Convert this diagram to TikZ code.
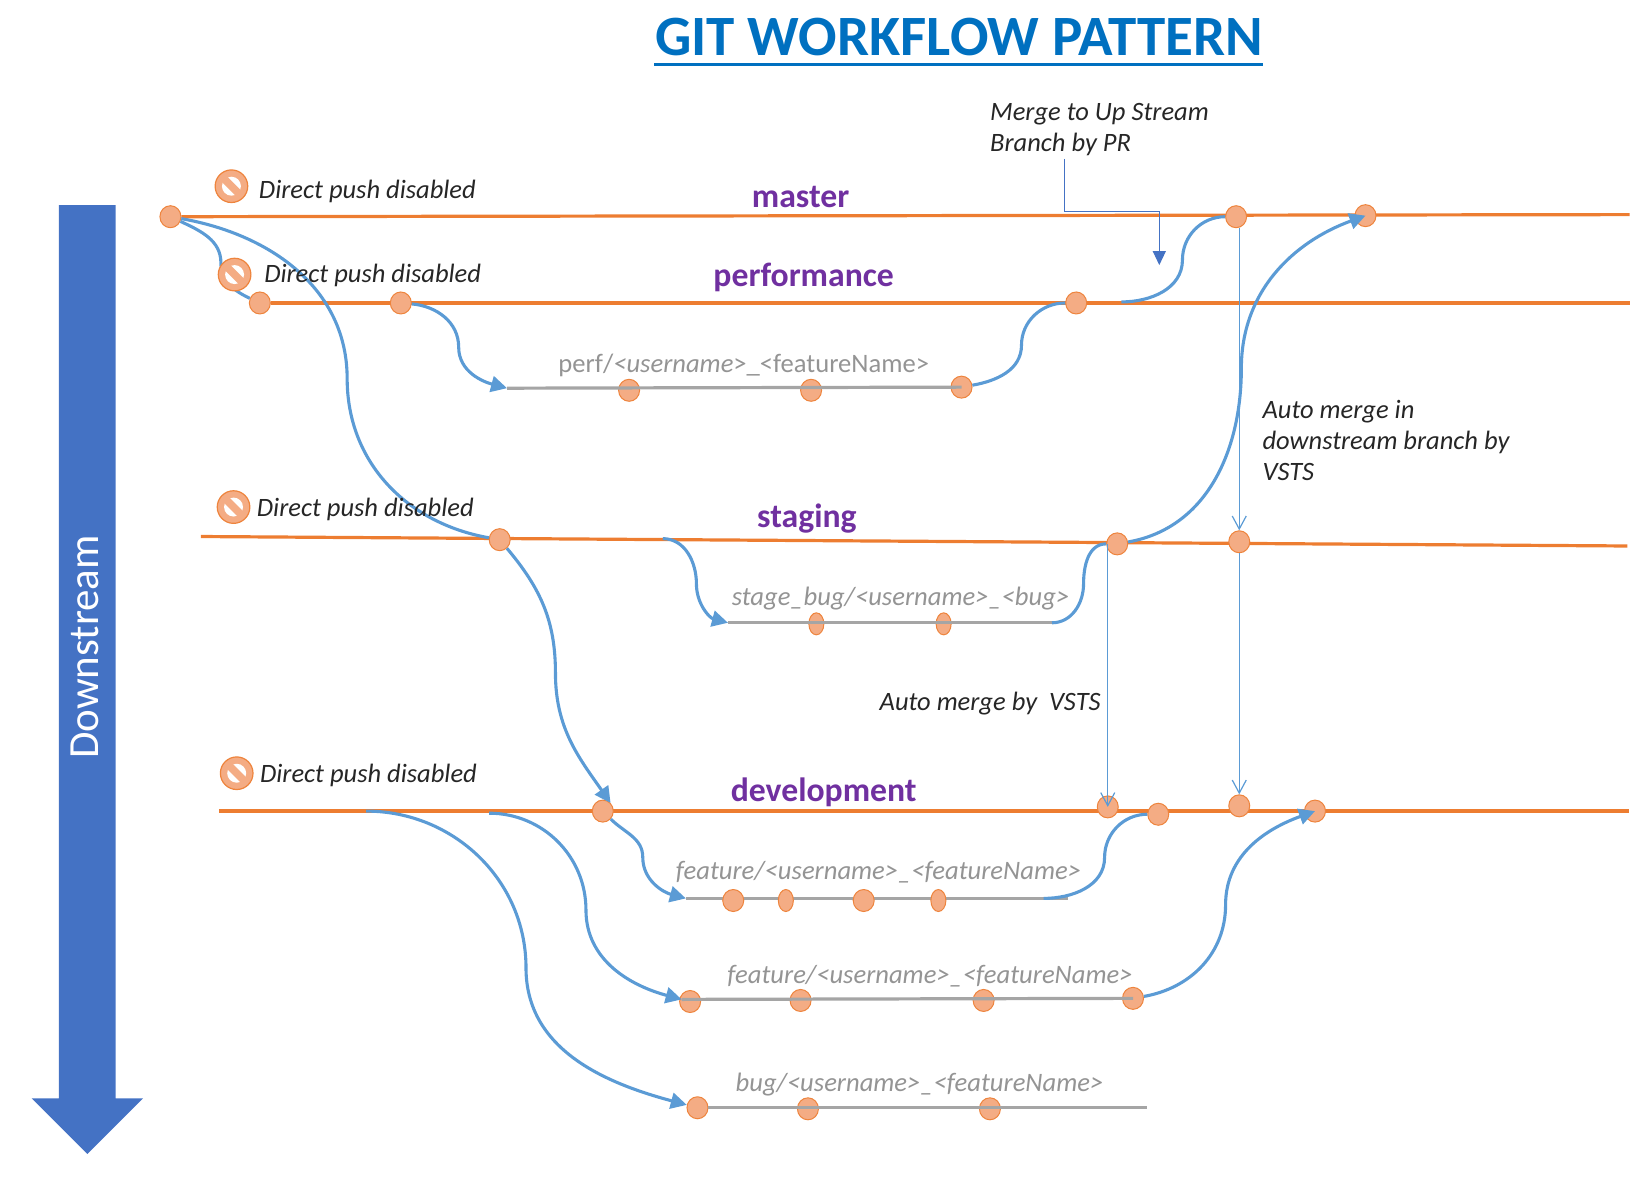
\documentclass[tikz,border=0pt]{standalone}
\usepackage{fontspec}
\setmainfont{Carlito}
\usetikzlibrary{arrows.meta,backgrounds,shapes.geometric}
\definecolor{gitorange}{HTML}{ED7D31}
\definecolor{gitdot}{HTML}{F4AC84}
\definecolor{gitblue}{HTML}{5B9BD5}
\definecolor{gitdark}{HTML}{4472C4}
\definecolor{gitgray}{HTML}{A5A5A5}
\definecolor{gittitle}{HTML}{0070C0}
\definecolor{gitpurple}{HTML}{7030A0}
\tikzset{
	commit/.style={shape=ellipse, draw=gitorange!85!gitdot, line width=1pt, fill=gitdot, inner sep=0pt, minimum width=21pt, minimum height=22pt},
	thincommit/.style={commit, minimum width=15pt},
	mainline/.style={gitorange, line width=3.2pt},
	topicline/.style={gitgray, line width=3.2pt},
	flow/.style={gitblue, line width=3.1pt},
	flowto/.style={flow, -{Triangle[length=16pt,width=16pt]}},
	automerge/.style={gitblue, line width=1.2pt, -{Straight Barb[length=13pt,width=14pt]}},
	branchname/.style={text=gitpurple, font=\fontsize{33.7}{34}\selectfont\bfseries},
	topicname/.style={text=gitgray!90!black, font=\fontsize{26.6}{27}\selectfont\itshape},
	note/.style={text=black!85, font=\fontsize{26.5}{31}\selectfont\itshape, align=left, anchor=west, inner sep=0pt},
	nopush/.pic={
		\fill[gitdot] (0,0) circle (15.5);
		\draw[gitorange!85!gitdot, line width=1.2pt] (0,0) circle (15.5);
		\fill[white] (0,0) circle (9);
		\draw[gitdot, line width=7.5pt] (-7,-7) -- (7,7);
	}
}
\begin{document}
\begin{tikzpicture}[x=1.052pt, y=-1.052pt]
	\useasboundingbox (0,0) rectangle (1567.5,1121.7);

	% title
	\node[text=gittitle, font=\fontsize{57}{57}\selectfont\bfseries] (title) at (912,35) {GIT WORKFLOW PATTERN};
	\draw[gittitle, line width=2.8pt] (622,61) -- (1201,61);

	% downstream arrow
	\fill[gitdark] (56,195) -- (110,195) -- (110,1044) -- (136,1044) -- (83,1097) -- (30,1044) -- (56,1044) -- cycle;
	\node[text=white, rotate=90, font=\fontsize{43}{43}\selectfont] (down) at (81,615) {Downstream};

	% commits on the long branches
	\node[commit] (m0) at (162,206) {};
	\node[commit] (m1) at (1175,206) {};
	\node[commit] (m2) at (1298,205) {};
	\node[commit] (p0) at (247,288) {};
	\node[commit] (p1) at (381,288) {};
	\node[commit] (p2) at (1023,288) {};
	\node[commit] (s0) at (475,513) {};
	\node[commit] (s1) at (1062,517) {};
	\node[commit] (s2) at (1178,515) {};
	\node[commit] (d0) at (573,771) {};
	\node[commit] (d1) at (1053,767) {};
	\node[commit] (d2) at (1101,774) {};
	\node[commit] (d3) at (1178,766) {};
	\node[commit] (d4) at (1250,771) {};

	% commits on the topic branches
	\node[commit] (a0) at (598,371) {};
	\node[commit] (a1) at (771,371) {};
	\node[commit] (a2) at (914,368) {};
	\node[thincommit] (b0) at (776,593) {};
	\node[thincommit] (b1) at (897,593) {};
	\node[commit] (f0) at (697,856) {};
	\node[thincommit] (f1) at (747,856) {};
	\node[commit] (f2) at (821,856) {};
	\node[thincommit] (f3) at (892,856) {};
	\node[commit] (g0) at (656,952) {};
	\node[commit] (g1) at (761,951) {};
	\node[commit] (g2) at (935,951) {};
	\node[commit] (g3) at (1077,949) {};
	\node[commit] (h0) at (663,1053) {};
	\node[commit] (h1) at (768,1054) {};
	\node[commit] (h2) at (941,1054) {};

	% free ends
	\coordinate (mEnd) at (1549,204);
	\coordinate (pEnd) at (1549,288);
	\coordinate (sStart) at (191,510);
	\coordinate (sEnd) at (1547,519);
	\coordinate (dStart) at (208,771);
	\coordinate (dEnd) at (1548,771);
	\coordinate (aStart) at (482,369);
	\coordinate (bStart) at (692,592);
	\coordinate (bEnd) at (1000,592);
	\coordinate (fStart) at (652,854);
	\coordinate (fEnd) at (1015,854);
	\coordinate (gStart) at (648,950);
	\coordinate (hEnd) at (1090,1053);
	\coordinate (pFrom) at (1066,287);
	\coordinate (sFrom) at (630,512);
	\coordinate (fFrom) at (992,854);
	\coordinate (dFromA) at (465,773);
	\coordinate (dFromB) at (348,771);
	\coordinate (prA) at (1012,151);
	\coordinate (prB) at (1102,252);

	\begin{scope}[on background layer]
		\draw[mainline] (m0) -- (mEnd);
		\draw[mainline] (p0) -- (pEnd);
		\draw[mainline] (sStart) -- (sEnd);
		\draw[mainline] (dStart) -- (dEnd);
		\draw[topicline] (fStart) -- (fEnd);
	\end{scope}

	% topic lines run over their commits
	\draw[topicline] (aStart) -- (a2.center);
	\draw[topicline] (bStart) -- (bEnd);
	\draw[topicline] (gStart) -- (g3.center);
	\draw[topicline] (h0.east) -- (hEnd);

	% branch flows
	\draw[flow] (m0) to[out=-25,in=90] (210,250) to[out=-90,in=155] (p0);
	\draw[flow] (m0) to[out=-10,in=90] (330,360) to[out=-90,in=170] (s0);
	\draw[flowto] (s0) to[out=-50,in=90] (528,640) to[out=-90,in=125] (d0.north east);
	\draw[flowto] (p1) to[out=-5,in=90] (436,330) to[out=-90,in=165] (aStart);
	\draw[flow] (a2) to[out=10,in=-90] (971,328) to[out=90,in=180] (p2);
	\draw[flow] (pFrom) to[out=0,in=-90] (1124,247) to[out=90,in=180] (m1);
	\draw[flowto] (s1) to[out=10,in=-90] (1180,350) to[out=90,in=200] (m2.center);
	\draw[flowto] (sFrom) to[out=0,in=90] (662,555) to[out=-90,in=165] (bStart);
	\draw[flow] (bEnd) to[out=0,in=-90] (1030,555) to[out=90,in=180] (s1);
	\draw[flowto] (d0) to[out=-45,in=90] (611,815) to[out=-90,in=165] (fStart);
	\draw[flow] (fFrom) to[out=0,in=-90] (1050,815) to[out=90,in=180] (d2);
	\draw[flowto] (g3) to[out=10,in=-90] (1165,860) to[out=90,in=200] (d4.center);
	\draw[flowto] (dFromA) to[out=0,in=90] (557,865) to[out=-90,in=165] (gStart);
	\draw[flowto] (dFromB) to[out=0,in=90] (500,920) to[out=-90,in=165] (h0);

	% automatic merges
	\draw[automerge] (s2 |- m1.south) -- (s2);
	\draw[automerge] (s2) -- (d3);
	\draw[automerge] (d1 |- s1) -- (d1.center);
	\draw[gitdark, line width=1.2pt, -{Triangle[length=14pt,width=13pt]}] (prA) |- (1102,201) -- (prB);

	% notes
	\pic at (220,177) {nopush};
	\pic at (223,261) {nopush};
	\pic at (222,482) {nopush};
	\pic at (225,735) {nopush};
	\node[note] (n0) at (246,181.5) {Direct push disabled};
	\node[note] (n1) at (251,261.5) {Direct push disabled};
	\node[note] (n2) at (244,484.5) {Direct push disabled};
	\node[note] (n3) at (247,737.5) {Direct push disabled};
	\node[note] (n4) at (941,123) {Merge to Up Stream\\Branch by PR};
	\node[note] (n5) at (1200,419) {Auto merge in\\downstream branch by\\VSTS};
	\node[note] (n6) at (836,668.5) {Auto merge by\ \ VSTS};

	% branch names
	\node[branchname] (bmaster) at (761,187) {master};
	\node[branchname] (bperf) at (764,263.5) {performance};
	\node[branchname] (bstaging) at (767,492.5) {staging};
	\node[branchname] (bdev) at (783,753.5) {development};
	\node[topicname] (t0) at (707,347.5) {\upshape perf/\itshape<username\upshape>\_<featureName>};
	\node[topicname] (t1) at (856,568.5) {stage\_bug/<username>\_<bug>};
	\node[topicname] (t2) at (835,829.5) {feature/<username>\_<featureName>};
	\node[topicname] (t3) at (884,927.5) {feature/<username>\_<featureName>};
	\node[topicname] (t4) at (874,1030.5) {bug/<username>\_<featureName>};
\end{tikzpicture}
\end{document}
